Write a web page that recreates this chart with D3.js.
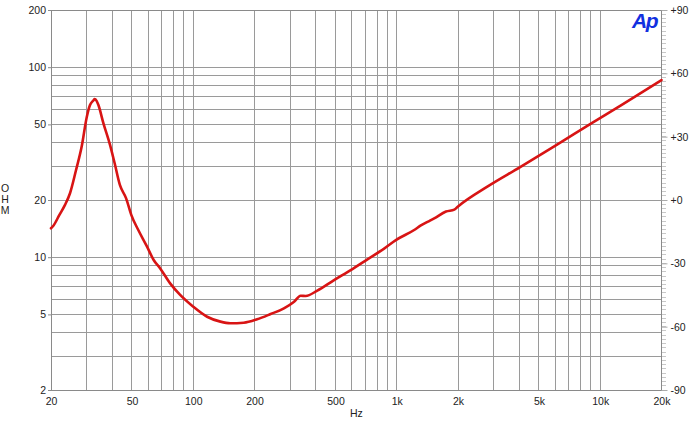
<!DOCTYPE html>
<html>
<head>
<meta charset="utf-8">
<script src="https://cdn.jsdelivr.net/npm/d3@7"></script>
<style>
  html, body { margin: 0; padding: 0; background: #fff; }
  svg { display: block; font-family: "Liberation Sans", Arial, sans-serif; }
</style>
</head>
<body>
<svg id="chart" width="700" height="426"></svg>
<script>
// ---- data ----
const freqHz = [20, 20.5, 22, 23.4, 24.8, 26.5, 28.3, 30, 31.1, 32.3, 32.8, 33.5, 34.2, 36.2, 39, 41.1, 43.6, 46.8, 49.6, 53.7, 59.2, 63.9, 68.8, 77, 86, 100, 117, 136, 152, 177, 206, 240, 279, 313, 337, 357, 407, 492, 594, 718, 867, 990, 1218, 1314, 1444, 1528, 1746, 1918, 2000, 2800, 4040, 6080, 9040, 12700, 20000];
const impedanceOhm = [14.2, 14.6, 16.7, 18.8, 21.7, 28.5, 38.2, 54.9, 63.2, 66.8, 68.0, 66.5, 63.2, 50.6, 39.0, 31.2, 24.0, 20.4, 16.7, 13.9, 11.4, 9.67, 8.73, 7.28, 6.35, 5.49, 4.86, 4.58, 4.49, 4.52, 4.71, 5.02, 5.38, 5.83, 6.27, 6.25, 6.67, 7.58, 8.56, 9.75, 11.1, 12.3, 13.9, 14.7, 15.5, 16.0, 17.4, 17.8, 18.5, 23.6, 29.8, 38.9, 50.6, 63.2, 85.6];

const xTickValues = [20, 50, 100, 200, 500, 1000, 2000, 5000, 10000, 20000];
const xTickLabels = ["20", "50", "100", "200", "500", "1k", "2k", "5k", "10k", "20k"];
const xGridValues = [20,30,40,50,60,70,80,90,100,200,300,400,500,600,700,800,900,1000,2000,3000,4000,5000,6000,7000,8000,9000,10000,20000];
const yTickValues = [2, 5, 10, 20, 50, 100, 200];
const yGridValues = [2,3,4,5,6,7,8,9,10,20,30,40,50,60,70,80,90,100,200];
const phaseTickValues = [-90, -60, -30, 0, 30, 60, 90];
const phaseTickLabels = ["-90", "-60", "-30", "+0", "+30", "+60", "+90"];

// ---- layout ----
const L = 51, R = 661.5, T = 10, B = 390;
const svg = d3.select("#chart");

const x = d3.scaleLog().domain([20, 20000]).range([L, R]);
const y = d3.scaleLog().domain([2, 200]).range([B, T]);
const yPh = d3.scaleLinear().domain([-90, 90]).range([B, T]);

const gridColor = "#9a9a9a";

// grid
const grid = svg.append("g");
grid.selectAll("line.v").data(xGridValues).join("line")
  .attr("x1", d => x(d)).attr("x2", d => x(d))
  .attr("y1", T).attr("y2", B)
  .attr("stroke", gridColor).attr("stroke-width", 1).attr("shape-rendering", "crispEdges");
grid.selectAll("line.h").data(yGridValues).join("line")
  .attr("y1", d => y(d)).attr("y2", d => y(d))
  .attr("x1", L).attr("x2", R)
  .attr("stroke", gridColor).attr("stroke-width", 1).attr("shape-rendering", "crispEdges");

// frame
svg.append("rect").attr("x", L).attr("y", T).attr("width", R - L).attr("height", B - T)
  .attr("fill", "none").attr("stroke", "#8a8a8a").attr("stroke-width", 1).attr("shape-rendering", "crispEdges");

// left axis
const yAxis = d3.axisLeft(y).tickValues(yTickValues).tickFormat(d3.format("d")).tickSize(3).tickPadding(2);
const gy = svg.append("g").attr("transform", `translate(${L},0)`).call(yAxis);
gy.select(".domain").remove();
gy.selectAll(".tick line").attr("stroke", "#8a8a8a");
gy.selectAll(".tick text").attr("font-size", 10.5).attr("fill", "#222").attr("font-family", "Liberation Sans, Arial, sans-serif");

// bottom axis
const xAxis = d3.axisBottom(x).tickValues(xTickValues)
  .tickFormat((d, i) => xTickLabels[i]).tickSize(0).tickPadding(8);
const gx = svg.append("g").attr("transform", `translate(0,${B})`).call(xAxis);
gx.select(".domain").remove();
gx.selectAll(".tick text").attr("font-size", 10.5).attr("fill", "#222").attr("font-family", "Liberation Sans, Arial, sans-serif");

// right phase axis
const minorPh = d3.range(-90, 91, 2);
svg.append("g").selectAll("line").data(minorPh).join("line")
  .attr("x1", R).attr("x2", R + 4)
  .attr("y1", d => yPh(d)).attr("y2", d => yPh(d))
  .attr("stroke", "#c8c8c8").attr("stroke-width", 1).attr("shape-rendering", "crispEdges");
const phAxis = d3.axisRight(yPh).tickValues(phaseTickValues)
  .tickFormat((d, i) => phaseTickLabels[i]).tickSize(6).tickPadding(3);
const gp = svg.append("g").attr("transform", `translate(${R},0)`).call(phAxis);
gp.select(".domain").remove();
gp.selectAll(".tick line").attr("stroke", "#aaa");
gp.selectAll(".tick text").attr("font-size", 10.5).attr("fill", "#222").attr("font-family", "Liberation Sans, Arial, sans-serif");

// curve
const line = d3.line().x((d, i) => x(freqHz[i])).y(d => y(d)).curve(d3.curveMonotoneX);
svg.append("path").datum(impedanceOhm)
  .attr("d", line).attr("fill", "none")
  .attr("stroke", "#d81414").attr("stroke-width", 2.6)
  .attr("stroke-linejoin", "round").attr("stroke-linecap", "round");

// axis titles
svg.append("text").attr("x", 350).attr("y", 417).attr("font-size", 10.5).attr("fill", "#222").text("Hz");
const ohm = svg.append("text").attr("font-size", 10.5).attr("fill", "#222").attr("text-anchor", "middle");
["O", "H", "M"].forEach((c, i) => {
  ohm.append("tspan").attr("x", 5).attr("y", 192 + i * 11).text(c);
});

// Ap logo
svg.append("text").attr("x", 632).attr("y", 28)
  .attr("font-size", 21).attr("font-weight", "bold").attr("font-style", "italic")
  .attr("letter-spacing", -1.5).attr("fill", "#1230e0").text("Ap");
</script>
</body>
</html>
